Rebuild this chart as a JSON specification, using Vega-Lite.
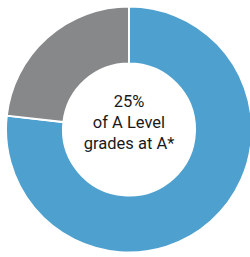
{
  "$schema": "https://vega.github.io/schema/vega-lite/v6.json",
  "width": 250,
  "height": 257,
  "autosize": {"type": "fit", "contains": "padding"},
  "padding": {"left": 8, "top": 2, "right": 0, "bottom": 0},
  "background": "white",
  "view": {"stroke": null},
  "layer": [
    {
      "data": {"values": [
        {"category": "Other grades", "share": 76.8, "rank": 1},
        {"category": "A*", "share": 23.2, "rank": 2}
      ]},
      "mark": {"type": "arc", "outerRadius": 123, "innerRadius": 66, "stroke": "white", "strokeWidth": 2},
      "encoding": {
        "theta": {"field": "share", "type": "quantitative", "stack": true},
        "order": {"field": "rank", "type": "quantitative"},
        "color": {"field": "category", "type": "nominal", "scale": {"domain": ["Other grades", "A*"], "range": ["#4ea0cf", "#87888a"]}, "legend": null}
      }
    },
    {
      "data": {"values": [{"label": ["25%", "of A Level", "grades at A*"]}]},
      "mark": {"type": "text", "font": "Roboto", "fontSize": 16.5, "lineHeight": 21, "align": "center", "baseline": "alphabetic", "color": "#1a1a1a", "dy": -22.5},
      "encoding": {"text": {"field": "label"}}
    }
  ]
}
